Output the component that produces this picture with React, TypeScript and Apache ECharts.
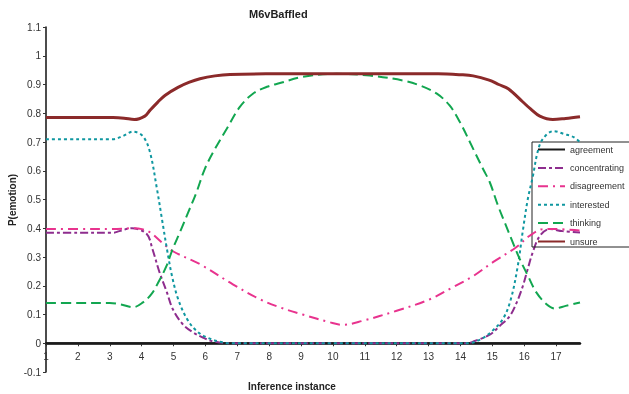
import React, { useEffect, useRef } from "react";
import * as echarts from "echarts";

const titleText = "M6vBaffled";
const yAxisTitle = "P(emotion)";
const xAxisTitle = "Inference instance";
const seriesNames = ["agreement", "concentrating", "disagreement", "interested", "thinking", "unsure"];

const agreementX = [1, 17.75];
const agreementY = [0, 0];

const concentratingX = [1, 2, 3.1, 3.3, 3.7, 4.16, 4.34, 4.56, 4.79, 4.98, 5.29, 5.61, 5.92, 6.23, 6.8, 8, 10, 12, 14.2, 14.45, 14.92, 15.23, 15.55, 15.77, 15.96, 16.11, 16.27, 16.49, 16.8, 17.2, 17.75];
const concentratingY = [0.384, 0.384, 0.384, 0.39, 0.4, 0.38, 0.327, 0.247, 0.178, 0.118, 0.066, 0.038, 0.02, 0.007, 0, 0, 0, 0, 0, 0.008, 0.03, 0.06, 0.095, 0.143, 0.2, 0.258, 0.317, 0.373, 0.397, 0.39, 0.385];

const disagreementX = [1, 2, 3.1, 3.7, 4.01, 4.26, 4.64, 4.98, 5.83, 6.86, 7.71, 8.33, 9.05, 9.9, 10.31, 10.93, 12, 13.04, 13.76, 14.39, 15.02, 15.75, 16.16, 16.6, 17.0, 17.75];
const disagreementY = [0.397, 0.397, 0.397, 0.4, 0.397, 0.386, 0.35, 0.32, 0.275, 0.205, 0.153, 0.125, 0.1, 0.073, 0.064, 0.078, 0.113, 0.153, 0.195, 0.233, 0.282, 0.334, 0.373, 0.397, 0.397, 0.392];

const interestedX = [1, 2, 3.1, 3.4, 3.73, 4.04, 4.26, 4.48, 4.64, 4.79, 4.95, 5.14, 5.42, 5.73, 6.05, 6.45, 6.8, 8, 10, 12, 14.24, 14.64, 14.95, 15.33, 15.58, 15.8, 15.95, 16.11, 16.27, 16.42, 16.58, 16.92, 17.24, 17.55, 17.75];
const interestedY = [0.71, 0.71, 0.71, 0.72, 0.736, 0.72, 0.665, 0.537, 0.43, 0.33, 0.235, 0.155, 0.085, 0.042, 0.02, 0.005, 0, 0, 0, 0, 0, 0.014, 0.038, 0.084, 0.153, 0.27, 0.386, 0.5, 0.58, 0.665, 0.71, 0.738, 0.728, 0.717, 0.7];

const thinkingX = [1, 2, 3, 3.35, 3.73, 4.04, 4.3, 4.52, 4.78, 4.97, 5.2, 5.46, 5.72, 5.98, 6.3, 6.67, 7.08, 7.49, 7.93, 8.34, 9.06, 10.12, 11.16, 12.19, 12.72, 13.26, 13.66, 13.98, 14.4, 14.71, 14.92, 15.18, 15.39, 15.6, 15.86, 16.12, 16.38, 16.7, 16.96, 17.3, 17.75];
const thinkingY = [0.14, 0.14, 0.14, 0.135, 0.125, 0.142, 0.17, 0.211, 0.269, 0.327, 0.386, 0.455, 0.525, 0.606, 0.676, 0.746, 0.822, 0.868, 0.892, 0.905, 0.927, 0.937, 0.931, 0.914, 0.897, 0.868, 0.827, 0.77, 0.676, 0.606, 0.56, 0.478, 0.42, 0.362, 0.293, 0.234, 0.177, 0.136, 0.121, 0.13, 0.142];

const unsureX = [1, 2, 3.1, 3.45, 3.77, 4.1, 4.26, 4.5, 4.73, 5.14, 5.5, 5.83, 6.3, 6.77, 7.9, 9, 10, 11, 12, 13.3, 14.0, 14.4, 14.9, 15.2, 15.5, 15.95, 16.2, 16.49, 16.9, 17.3, 17.75];
const unsureY = [0.785, 0.785, 0.785, 0.783, 0.778, 0.79, 0.81, 0.838, 0.862, 0.89, 0.908, 0.92, 0.93, 0.935, 0.937, 0.937, 0.937, 0.937, 0.937, 0.937, 0.934, 0.93, 0.915, 0.9, 0.885, 0.84, 0.815, 0.79, 0.778, 0.782, 0.788];

const colors = ["#1a1a1a", "#8E2D8E", "#E8338E", "#0F97A0", "#12A650", "#8B2A2A"];
const FONT = "'Liberation Sans', Arial, sans-serif";

const pair = (xs: number[], ys: number[]) => xs.map((x, i) => [x, ys[i]]);

export default function App() {
  const ref = useRef<HTMLDivElement>(null);
  useEffect(() => {
    if (!ref.current) return;
    const chart = echarts.init(ref.current, null, { renderer: "svg" });
    const datasets = [
      pair(agreementX, agreementY),
      pair(concentratingX, concentratingY),
      pair(disagreementX, disagreementY),
      pair(interestedX, interestedY),
      pair(thinkingX, thinkingY),
      pair(unsureX, unsureY),
    ];
    const styles: any[] = [
      { width: 2, type: "solid" },
      { width: 2, type: [8, 3, 3, 3] },
      { width: 2, type: [10, 5, 2, 5] },
      { width: 2, type: [3, 3] },
      { width: 2, type: [10, 5] },
      { width: 3, type: "solid" },
    ];
    chart.setOption({
      animation: false,
      color: colors,
      textStyle: { fontFamily: FONT },
      title: {
        text: titleText,
        left: 244,
        top: 3,
        textStyle: { fontSize: 11, fontWeight: "bold", color: "#222", fontFamily: FONT },
      },
      grid: { left: 46, right: 49, top: 27, bottom: 22, containLabel: false },
      legend: {
        orient: "vertical",
        left: 532,
        top: 142,
        padding: [3, 30, 1, 5],
        itemWidth: 27,
        itemHeight: 11,
        itemGap: 9.4,
        borderColor: "#222",
        borderWidth: 1,
        backgroundColor: "transparent",
        data: seriesNames,
        itemStyle: { color: "transparent", borderColor: "transparent", borderWidth: 0 },
        textStyle: { fontSize: 9, color: "#333", fontFamily: FONT },
      },
      xAxis: {
        type: "value",
        min: 1,
        max: 17.75,
        interval: 1,
        splitLine: { show: false },
        axisLine: { onZero: true, lineStyle: { color: "#111", width: 2.5 } },
        axisTick: { show: true, length: 3, lineStyle: { color: "#333" } },
        axisLabel: {
          margin: -21,
          fontSize: 10,
          color: "#333",
          fontFamily: FONT,
          showMaxLabel: false,
          formatter: (v: number) => (Number.isInteger(v) ? String(v) : ""),
        },
      },
      yAxis: {
        type: "value",
        min: -0.1,
        max: 1.1,
        interval: 0.1,
        splitLine: { show: false },
        axisLine: { show: true, onZero: false, lineStyle: { color: "#111", width: 1.5 } },
        axisTick: { show: true, length: 3, lineStyle: { color: "#333" } },
        axisLabel: {
          margin: 5,
          fontSize: 10,
          color: "#333",
          fontFamily: FONT,
          formatter: (v: number) => String(Math.round(v * 10) / 10),
        },
      },
      graphic: [
        {
          type: "text",
          x: 12,
          y: 200,
          rotation: Math.PI / 2,
          style: {
            text: yAxisTitle,
            align: "center",
            verticalAlign: "middle",
            fontSize: 10,
            fontWeight: "bold",
            fill: "#222",
            fontFamily: FONT,
          },
        },
        {
          type: "text",
          x: 292,
          y: 386,
          style: {
            text: xAxisTitle,
            align: "center",
            verticalAlign: "middle",
            fontSize: 10,
            fontWeight: "bold",
            fill: "#222",
            fontFamily: FONT,
          },
        },
      ],
      series: seriesNames.map((name, i) => ({
        name,
        type: "line",
        data: datasets[i],
        smooth: 0.35,
        symbol: "none",
        showSymbol: false,
        lineStyle: { color: colors[i], ...styles[i] },
        itemStyle: { color: colors[i] },
        z: 2 + i,
      })),
    });
    return () => chart.dispose();
  }, []);
  return <div ref={ref} style={{ position: "fixed", left: 0, top: 0, width: 629, height: 394 }} />;
}
